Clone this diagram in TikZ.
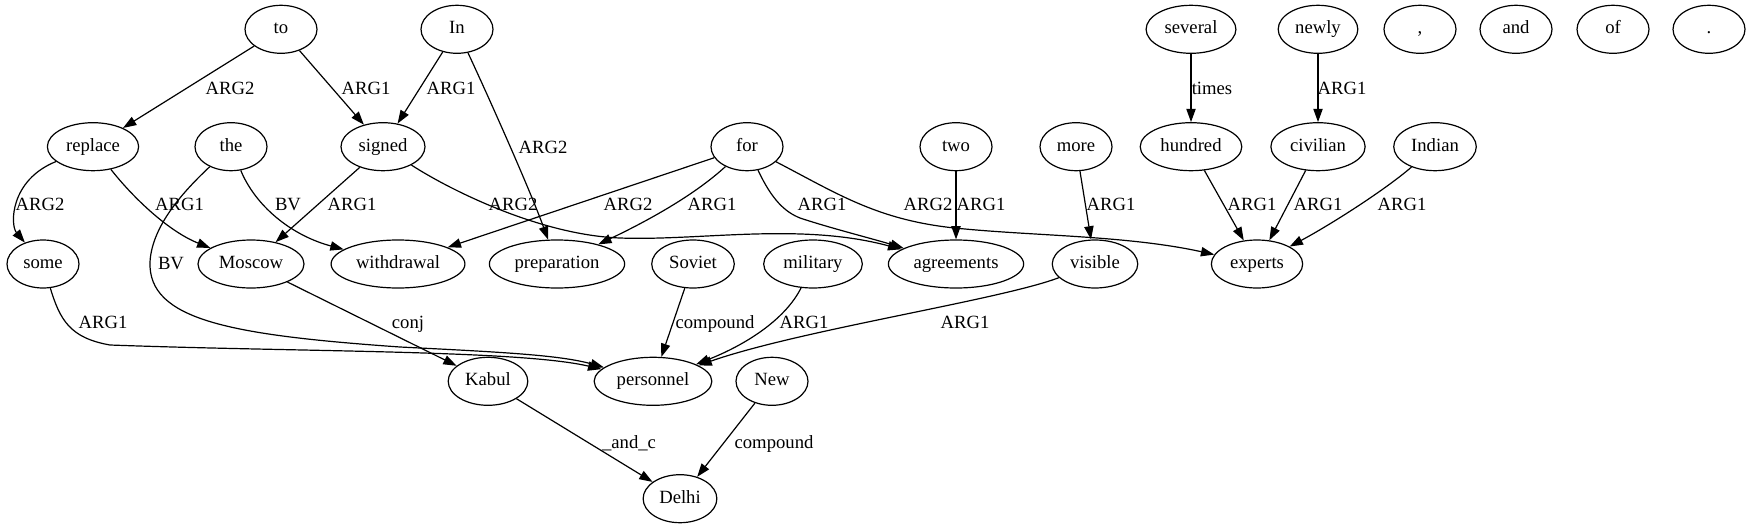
\documentclass[tikz,border=0pt]{standalone}
\usepackage{fontspec}
\setmainfont{Liberation Serif}
\usetikzlibrary{shapes.geometric,arrows.meta}
\begin{document}
\begin{tikzpicture}[x=0.75pt,y=-0.75pt,
  tok/.style={draw, ellipse, line width=0.9pt, minimum width=54pt, minimum height=36pt,
    inner xsep=4pt, inner ysep=2pt, font=\fontsize{14pt}{16pt}\selectfont,
    text height=9.5pt, text depth=3pt},
  rel/.style={font=\fontsize{14pt}{16pt}\selectfont, inner sep=0pt, text height=9.5pt, text depth=0pt},
  arc/.style={draw, line width=0.9pt, -{Triangle[length=10pt,width=7pt]}}]
\useasboundingbox (0,0) rectangle (1751,528);
% row 1
\node[tok] (nto) at (281,29.3) {to};
\node[tok] (nIn) at (457,29.3) {In};
\node[tok] (nseveral) at (1191,29.3) {several};
\node[tok] (nnewly) at (1318,29.3) {newly};
\node[tok] (ncomma) at (1420,29.3) {,};
\node[tok] (nand) at (1516,29.3) {and};
\node[tok] (nof) at (1613,29.3) {of};
\node[tok] (nperiod) at (1709,29.3) {.};
% row 2
\node[tok] (nreplace) at (93,146.7) {replace};
\node[tok] (nthe) at (231,146.7) {the};
\node[tok] (nsigned) at (383,146.7) {signed};
\node[tok] (nfor) at (747,146.7) {for};
\node[tok] (ntwo) at (956,146.7) {two};
\node[tok] (nmore) at (1076,146.7) {more};
\node[tok] (nhundred) at (1191,146.7) {hundred};
\node[tok] (ncivilian) at (1318,146.7) {civilian};
\node[tok] (nIndian) at (1435,146.7) {Indian};
% row 3
\node[tok] (nsome) at (43,264) {some};
\node[tok] (nMoscow) at (251,264) {Moscow};
\node[tok] (nwithdrawal) at (398,264) {withdrawal};
\node[tok] (npreparation) at (557,264) {preparation};
\node[tok] (nSoviet) at (693,264) {Soviet};
\node[tok] (nmilitary) at (813,264) {military};
\node[tok] (nagreements) at (956,264) {agreements};
\node[tok] (nvisible) at (1095,264) {visible};
\node[tok] (nexperts) at (1257,264) {experts};
% row 4
\node[tok] (nKabul) at (488,381.3) {Kabul};
\node[tok] (npersonnel) at (653,381.3) {personnel};
\node[tok] (nNew) at (772,381.3) {New};
% row 5
\node[tok] (nDelhi) at (680,498.7) {Delhi};

% edges
\draw[arc] (nto) -- (nreplace);
\node[rel] (l1) at (230,88.5) {ARG2};
\draw[arc] (nto) -- (nsigned);
\node[rel] (l2) at (366,88.5) {ARG1};
\draw[arc] (nIn) -- (nsigned);
\node[rel] (l3) at (451,88.5) {ARG1};
\draw[arc] (nIn) .. controls (490,100) and (530,190) .. (npreparation);
\node[rel] (l4) at (543,146.7) {ARG2};
\draw[arc] (nreplace) .. controls (10,180) and (10,225) .. (nsome);
\node[rel] (l5) at (40,204) {ARG2};
\draw[arc] (nreplace) .. controls (135,200) and (170,232) .. (nMoscow);
\node[rel] (l6) at (179.5,204) {ARG1};
\draw[arc] (nthe) .. controls (255,205) and (290,235) .. (nwithdrawal);
\node[rel] (l7) at (288,204) {BV};
\draw[arc] (nthe) .. controls (185,190) and (152,225) .. (150,262)
  .. controls (148,320) and (230,335) .. (400,347)
  .. controls (500,352) and (560,355) .. (npersonnel);
\node[rel] (l8) at (171,263) {BV};
\draw[arc] (nsigned) -- (nMoscow);
\node[rel] (l9) at (352,204) {ARG1};
\draw[arc] (nsigned) .. controls (450,190) and (540,235) .. (620,238)
  .. controls (700,241) and (800,222) .. (nagreements);
\node[rel] (l10) at (513,204) {ARG2};
\draw[arc] (nfor) -- (nwithdrawal);
\node[rel] (l11) at (628,204) {ARG2};
\draw[arc] (nfor) .. controls (700,190) and (660,215) .. (npreparation);
\node[rel] (l12) at (712,204) {ARG1};
\draw[arc] (nfor) .. controls (772,200) and (785,212) .. (800,218)
  .. controls (830,228) and (870,238) .. (nagreements);
\node[rel] (l13) at (822,204) {ARG1};
\draw[arc] (nfor) .. controls (840,195) and (880,222) .. (965,229)
  .. controls (1040,236) and (1130,236) .. (nexperts);
\node[rel] (l14) at (928,204) {ARG2};
\draw[arc] (ntwo) -- (nagreements);
\node[rel] (l15) at (981,204) {ARG1};
\draw[arc] (nmore) -- (nvisible);
\node[rel] (l16) at (1111,204) {ARG1};
\draw[arc] (nseveral) -- (nhundred);
\node[rel] (l17) at (1212,88.5) {times};
\draw[arc] (nnewly) -- (ncivilian);
\node[rel] (l18) at (1342,88.5) {ARG1};
\draw[arc] (nhundred) -- (nexperts);
\node[rel] (l19) at (1252,204) {ARG1};
\draw[arc] (ncivilian) -- (nexperts);
\node[rel] (l20) at (1318,204) {ARG1};
\draw[arc] (nIndian) .. controls (1385,190) and (1330,225) .. (nexperts);
\node[rel] (l21) at (1402,204) {ARG1};
\draw[arc] (nsome) .. controls (60,320) and (70,338) .. (110,345)
  .. controls (300,352) and (520,350) .. (npersonnel);
\node[rel] (l22) at (103,322) {ARG1};
\draw[arc] (nMoscow) -- (nKabul);
\node[rel] (l23) at (408,322) {conj};
\draw[arc] (nSoviet) -- (npersonnel);
\node[rel] (l24) at (715,322) {compound};
\draw[arc] (nmilitary) .. controls (785,320) and (745,345) .. (npersonnel);
\node[rel] (l25) at (804,322) {ARG1};
\draw[arc] (nvisible) .. controls (1000,300) and (800,330) .. (npersonnel);
\node[rel] (l26) at (965,322) {ARG1};
\draw[arc] (nKabul) -- (nDelhi);
\node[rel] (l27) at (629,442) {\_and\_c};
\draw[arc] (nNew) -- (nDelhi);
\node[rel] (l28) at (774,442) {compound};
\end{tikzpicture}
\end{document}
